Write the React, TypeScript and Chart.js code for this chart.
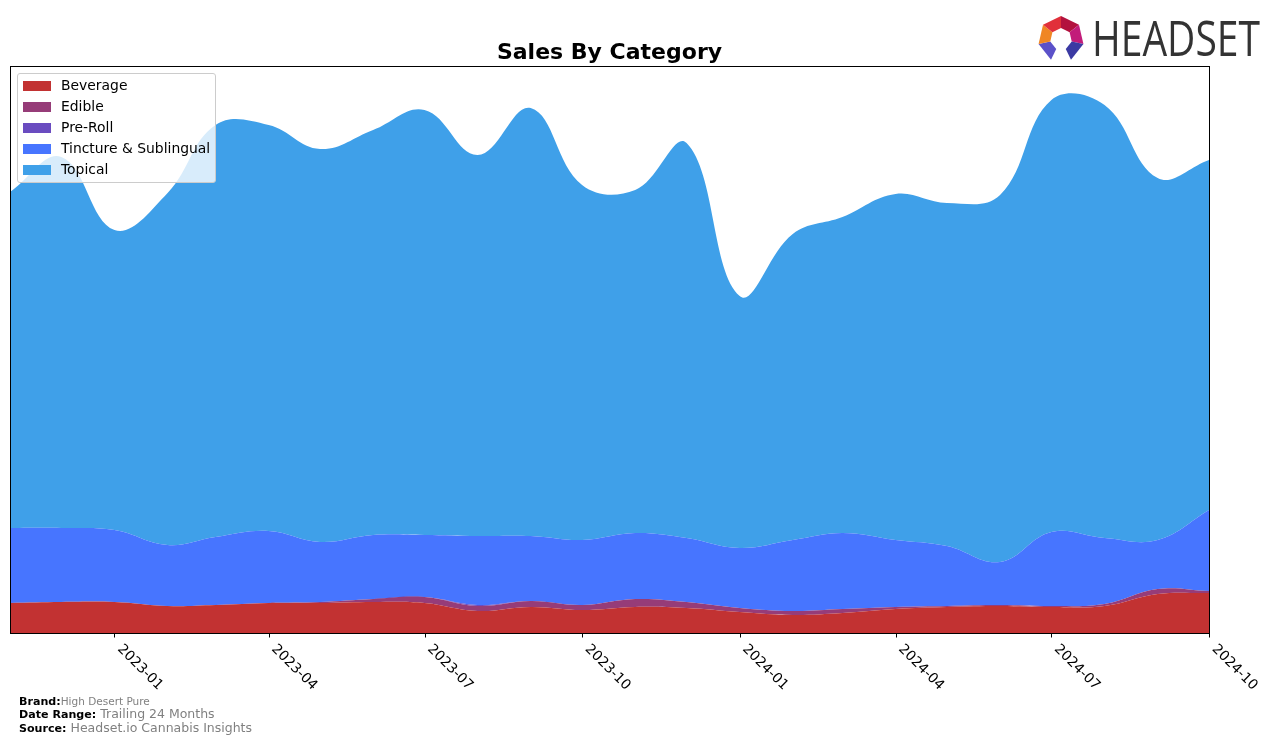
import React, { useEffect, useRef } from 'react';
import { Chart, registerables } from 'chart.js';

Chart.register(...registerables);

// ---- data ----
const months = [
  '2022-11', '2022-12', '2023-01', '2023-02', '2023-03', '2023-04', '2023-05', '2023-06',
  '2023-07', '2023-08', '2023-09', '2023-10', '2023-11', '2023-12', '2024-01', '2024-02',
  '2024-03', '2024-04', '2024-05', '2024-06', '2024-07', '2024-08', '2024-09', '2024-10',
];
const beverage = [30, 31, 31, 27, 28, 30, 30, 31, 30, 22, 26, 23, 26, 25, 21, 18, 20, 24, 26, 27, 26, 27, 39, 40];
const edible = [0, 0, 0, 0, 0, 0, 1, 3, 6, 5, 6, 5, 8, 6, 4, 4, 4, 2, 1, 1, 1, 2, 5, 2];
const preRoll = [0, 0, 0, 0, 0, 0, 0, 0, 0, 1, 0, 0, 0, 0, 0, 0, 0, 0, 0, 0, 0, 0, 0, 0];
const tincture = [75, 74, 72, 61, 68, 72, 60, 64, 62, 69, 65, 65, 66, 64, 60, 71, 76, 67, 60, 43, 74, 66, 49, 81];
const topical = [336, 371, 300, 352, 412, 406, 393, 405, 425, 381, 428, 355, 343, 395, 252, 306, 316, 346, 343, 367, 432, 433, 362, 350];

const tickLabels = ['2023-01', '2023-04', '2023-07', '2023-10', '2024-01', '2024-04', '2024-07', '2024-10'];

const seriesNames = ['Beverage', 'Edible', 'Pre-Roll', 'Tincture & Sublingual', 'Topical'];
const seriesColors = ['#c23232', '#963c78', '#6a4cc0', '#4775ff', '#3fa0e9'];

const titleText = 'Sales By Category';
const footerLines = [
  ['Brand:', 'High Desert Pure'],
  ['Date Range:', 'Trailing 24 Months'],
  ['Source:', 'Headset.io Cannabis Insights'],
];

const X_START = '2022-11';
const X_END = '2024-10';
const Y_MAX = 567;

const ORIGIN = (() => {
  const [y, m] = X_START.split('-').map(Number);
  return Date.UTC(y, m - 1, 1);
})();
const dayOf = (ym: string) => {
  const [y, m] = ym.split('-').map(Number);
  return (Date.UTC(y, m - 1, 1) - ORIGIN) / 86400000;
};

const axisPlugin = {
  id: 'mplAxis',
  afterDraw(chart: any) {
    const { ctx, chartArea: a, scales } = chart;
    const x = scales.x;
    ctx.save();
    ctx.strokeStyle = '#000';
    ctx.lineWidth = 1;
    ctx.strokeRect(
      Math.round(a.left) + 0.5,
      Math.round(a.top) + 0.5,
      Math.round(a.right - a.left),
      Math.round(a.bottom - a.top)
    );
    ctx.font = '13.9px "DejaVu Sans", sans-serif';
    ctx.fillStyle = '#000';
    tickLabels.forEach((lbl) => {
      const px = x.getPixelForValue(dayOf(lbl));
      const rx = Math.round(px) + 0.5;
      ctx.beginPath();
      ctx.moveTo(rx, a.bottom);
      ctx.lineTo(rx, a.bottom + 4.5);
      ctx.stroke();
      ctx.save();
      ctx.translate(px + 5, a.bottom + 14);
      ctx.rotate(Math.PI / 4);
      ctx.textAlign = 'left';
      ctx.textBaseline = 'middle';
      ctx.fillText(lbl, 0, 0);
      ctx.restore();
    });
    ctx.restore();
  },
};

function Logo() {
  const cx = 38;
  const cy = 35;
  const R = 23;
  const r = 11;
  const ang = (k: number) => ((-90 + (k * 360) / 7) * Math.PI) / 180;
  const pt = (rad: number, a: number) => `${cx + rad * Math.cos(a)},${cy + rad * Math.sin(a)}`;
  const segColors: Record<number, string> = {
    0: '#b3123e',
    1: '#c21c7a',
    2: '#3b3aa3',
    4: '#5b51c9',
    5: '#f08624',
    6: '#e1303a',
  };
  const segs = [0, 1, 2, 4, 5, 6].map((k) => {
    const a1 = ang(k);
    const a2 = ang(k + 1);
    return (
      <polygon
        key={k}
        points={`${pt(R, a1)} ${pt(R, a2)} ${pt(r, a2)} ${pt(r, a1)}`}
        fill={segColors[k]}
      />
    );
  });
  return (
    <svg
      width={240}
      height={60}
      style={{ position: 'absolute', left: 1023, top: 4 }}
      viewBox="0 0 240 60"
    >
      {segs}
      <text
        x={69}
        y={52}
        fontFamily='"Open Sans", "DejaVu Sans", sans-serif'
        fontSize={49}
        fill="#333333"
        textLength={168}
        lengthAdjust="spacingAndGlyphs"
      >
        HEADSET
      </text>
    </svg>
  );
}

export default function App() {
  const canvasRef = useRef<HTMLCanvasElement | null>(null);

  useEffect(() => {
    document.body.style.margin = '0';
    const canvas = canvasRef.current;
    if (!canvas) return;
    const xs = months.map(dayOf);
    const series = [beverage, edible, preRoll, tincture, topical];
    const chart = new Chart(canvas, {
      type: 'line',
      data: {
        datasets: series.map((vals, i) => ({
          label: seriesNames[i],
          data: vals.map((v, j) => ({ x: xs[j], y: v })),
          backgroundColor: seriesColors[i],
          borderColor: seriesColors[i],
          borderWidth: 0,
          pointRadius: 0,
          tension: 0.4,
          fill: i === 0 ? 'origin' : '-1',
        })),
      },
      options: {
        animation: false,
        responsive: false,
        layout: { padding: { left: 10, right: 67, top: 66, bottom: 111 } },
        plugins: {
          legend: { display: false },
          title: { display: false },
          tooltip: { enabled: false },
        },
        scales: {
          x: { type: 'linear', min: dayOf(X_START), max: dayOf(X_END), display: false },
          y: { stacked: true, min: 0, max: Y_MAX, display: false },
        },
      },
      plugins: [axisPlugin],
    });
    return () => chart.destroy();
  }, []);

  return (
    <div
      style={{
        position: 'relative',
        width: 1276,
        height: 744,
        fontFamily: '"DejaVu Sans", sans-serif',
        overflow: 'hidden',
        background: '#fff',
      }}
    >
      <canvas ref={canvasRef} width={1276} height={744} style={{ position: 'absolute', left: 0, top: 0 }} />
      <div
        style={{
          position: 'absolute',
          left: 10,
          width: 1199,
          top: 39,
          textAlign: 'center',
          fontWeight: 'bold',
          fontSize: 22,
          lineHeight: '26px',
          color: '#000',
        }}
      >
        {titleText}
      </div>
      <div
        style={{
          position: 'absolute',
          left: 17,
          top: 73,
          width: 197,
          height: 107,
          background: 'rgba(255,255,255,0.8)',
          border: '1px solid #cccccc',
          borderRadius: 3,
          paddingTop: 1,
        }}
      >
        {seriesNames.map((n, i) => (
          <div key={n} style={{ position: 'relative', height: 21 }}>
            <div
              style={{
                position: 'absolute',
                left: 5,
                top: 6,
                width: 28,
                height: 10,
                background: seriesColors[i],
              }}
            />
            <div
              style={{
                position: 'absolute',
                left: 43,
                top: 2,
                fontSize: 13.9,
                lineHeight: '17px',
                whiteSpace: 'nowrap',
                color: '#000',
              }}
            >
              {n}
            </div>
          </div>
        ))}
      </div>
      {footerLines.map(([k, v], i) => (
        <div
          key={k}
          style={{
            position: 'absolute',
            left: 19,
            top: [693, 706, 720][i],
            lineHeight: '14px',
            whiteSpace: 'nowrap',
          }}
        >
          <span style={{ fontWeight: 'bold', fontSize: 11.1, color: '#000' }}>{k}</span>
          <span style={{ fontSize: i === 0 ? 10.5 : 12.5, color: '#808080' }}>{i === 0 ? v : ' ' + v}</span>
        </div>
      ))}
      <Logo />
    </div>
  );
}
